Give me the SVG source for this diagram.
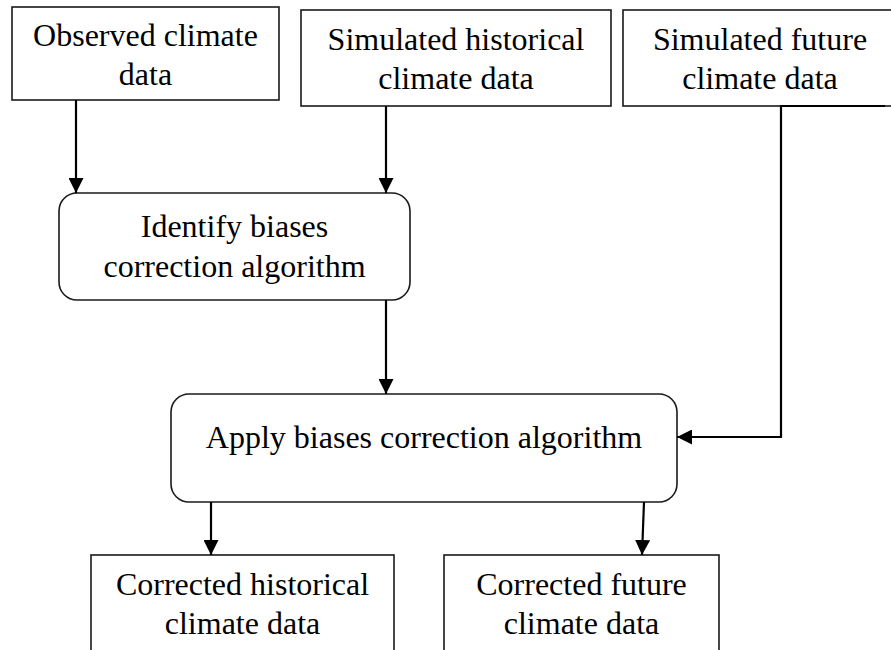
<svg xmlns="http://www.w3.org/2000/svg" width="891" height="650" viewBox="0 0 891 650">
<defs>
<style>
.box{fill:#fff;stroke:#1a1a1a;stroke-width:1.6}
.t{font-family:"Liberation Serif","Times New Roman",serif;font-size:32px;fill:#000;text-anchor:middle}
.c{fill:none;stroke:#000;stroke-width:2.2}
</style>
<marker id="ah" markerUnits="userSpaceOnUse" markerWidth="16" markerHeight="15" refX="15" refY="7.5" orient="auto">
<path d="M0,0 L15,7.5 L0,15 z" fill="#000"/>
</marker>
</defs>
<rect width="891" height="650" fill="#fff"/>
<g id="observed">
<rect class="box" x="12" y="7" width="267" height="93"/>
<text class="t" x="145.5" y="46">Observed climate</text>
<text class="t" x="145.5" y="85">data</text>
</g>
<g id="sim-hist">
<rect class="box" x="301" y="10" width="310" height="96"/>
<text class="t" x="456" y="50">Simulated historical</text>
<text class="t" x="456" y="89">climate data</text>
</g>
<g id="sim-future">
<rect class="box" x="623" y="10" width="275" height="96"/>
<text class="t" x="760" y="50">Simulated future</text>
<text class="t" x="760" y="89">climate data</text>
</g>
<g id="identify">
<rect class="box" x="59" y="193" width="351" height="107" rx="18" ry="18"/>
<text class="t" x="234.5" y="237">Identify biases</text>
<text class="t" x="234.5" y="277">correction algorithm</text>
</g>
<g id="apply">
<rect class="box" x="171" y="394" width="506" height="108" rx="18" ry="18"/>
<text class="t" x="424" y="448">Apply biases correction algorithm</text>
</g>
<g id="corr-hist">
<rect class="box" x="91" y="555" width="303" height="110"/>
<text class="t" x="242.5" y="595">Corrected historical</text>
<text class="t" x="242.5" y="634">climate data</text>
</g>
<g id="corr-future">
<rect class="box" x="444" y="555" width="275" height="110"/>
<text class="t" x="581.5" y="595">Corrected future</text>
<text class="t" x="581.5" y="634">climate data</text>
</g>
<g id="connectors">
<path class="c" d="M76,100 L76,193" marker-end="url(#ah)"/>
<path class="c" d="M386,106 L386,193" marker-end="url(#ah)"/>
<path class="c" d="M386,300 L386,394" marker-end="url(#ah)"/>
<path class="c" d="M885,106 L781,106 L781,437 L677,437" marker-end="url(#ah)"/>
<path class="c" d="M211,502 L211,555" marker-end="url(#ah)"/>
<path class="c" d="M644,502 L642,555" marker-end="url(#ah)"/>
</g>
</svg>
